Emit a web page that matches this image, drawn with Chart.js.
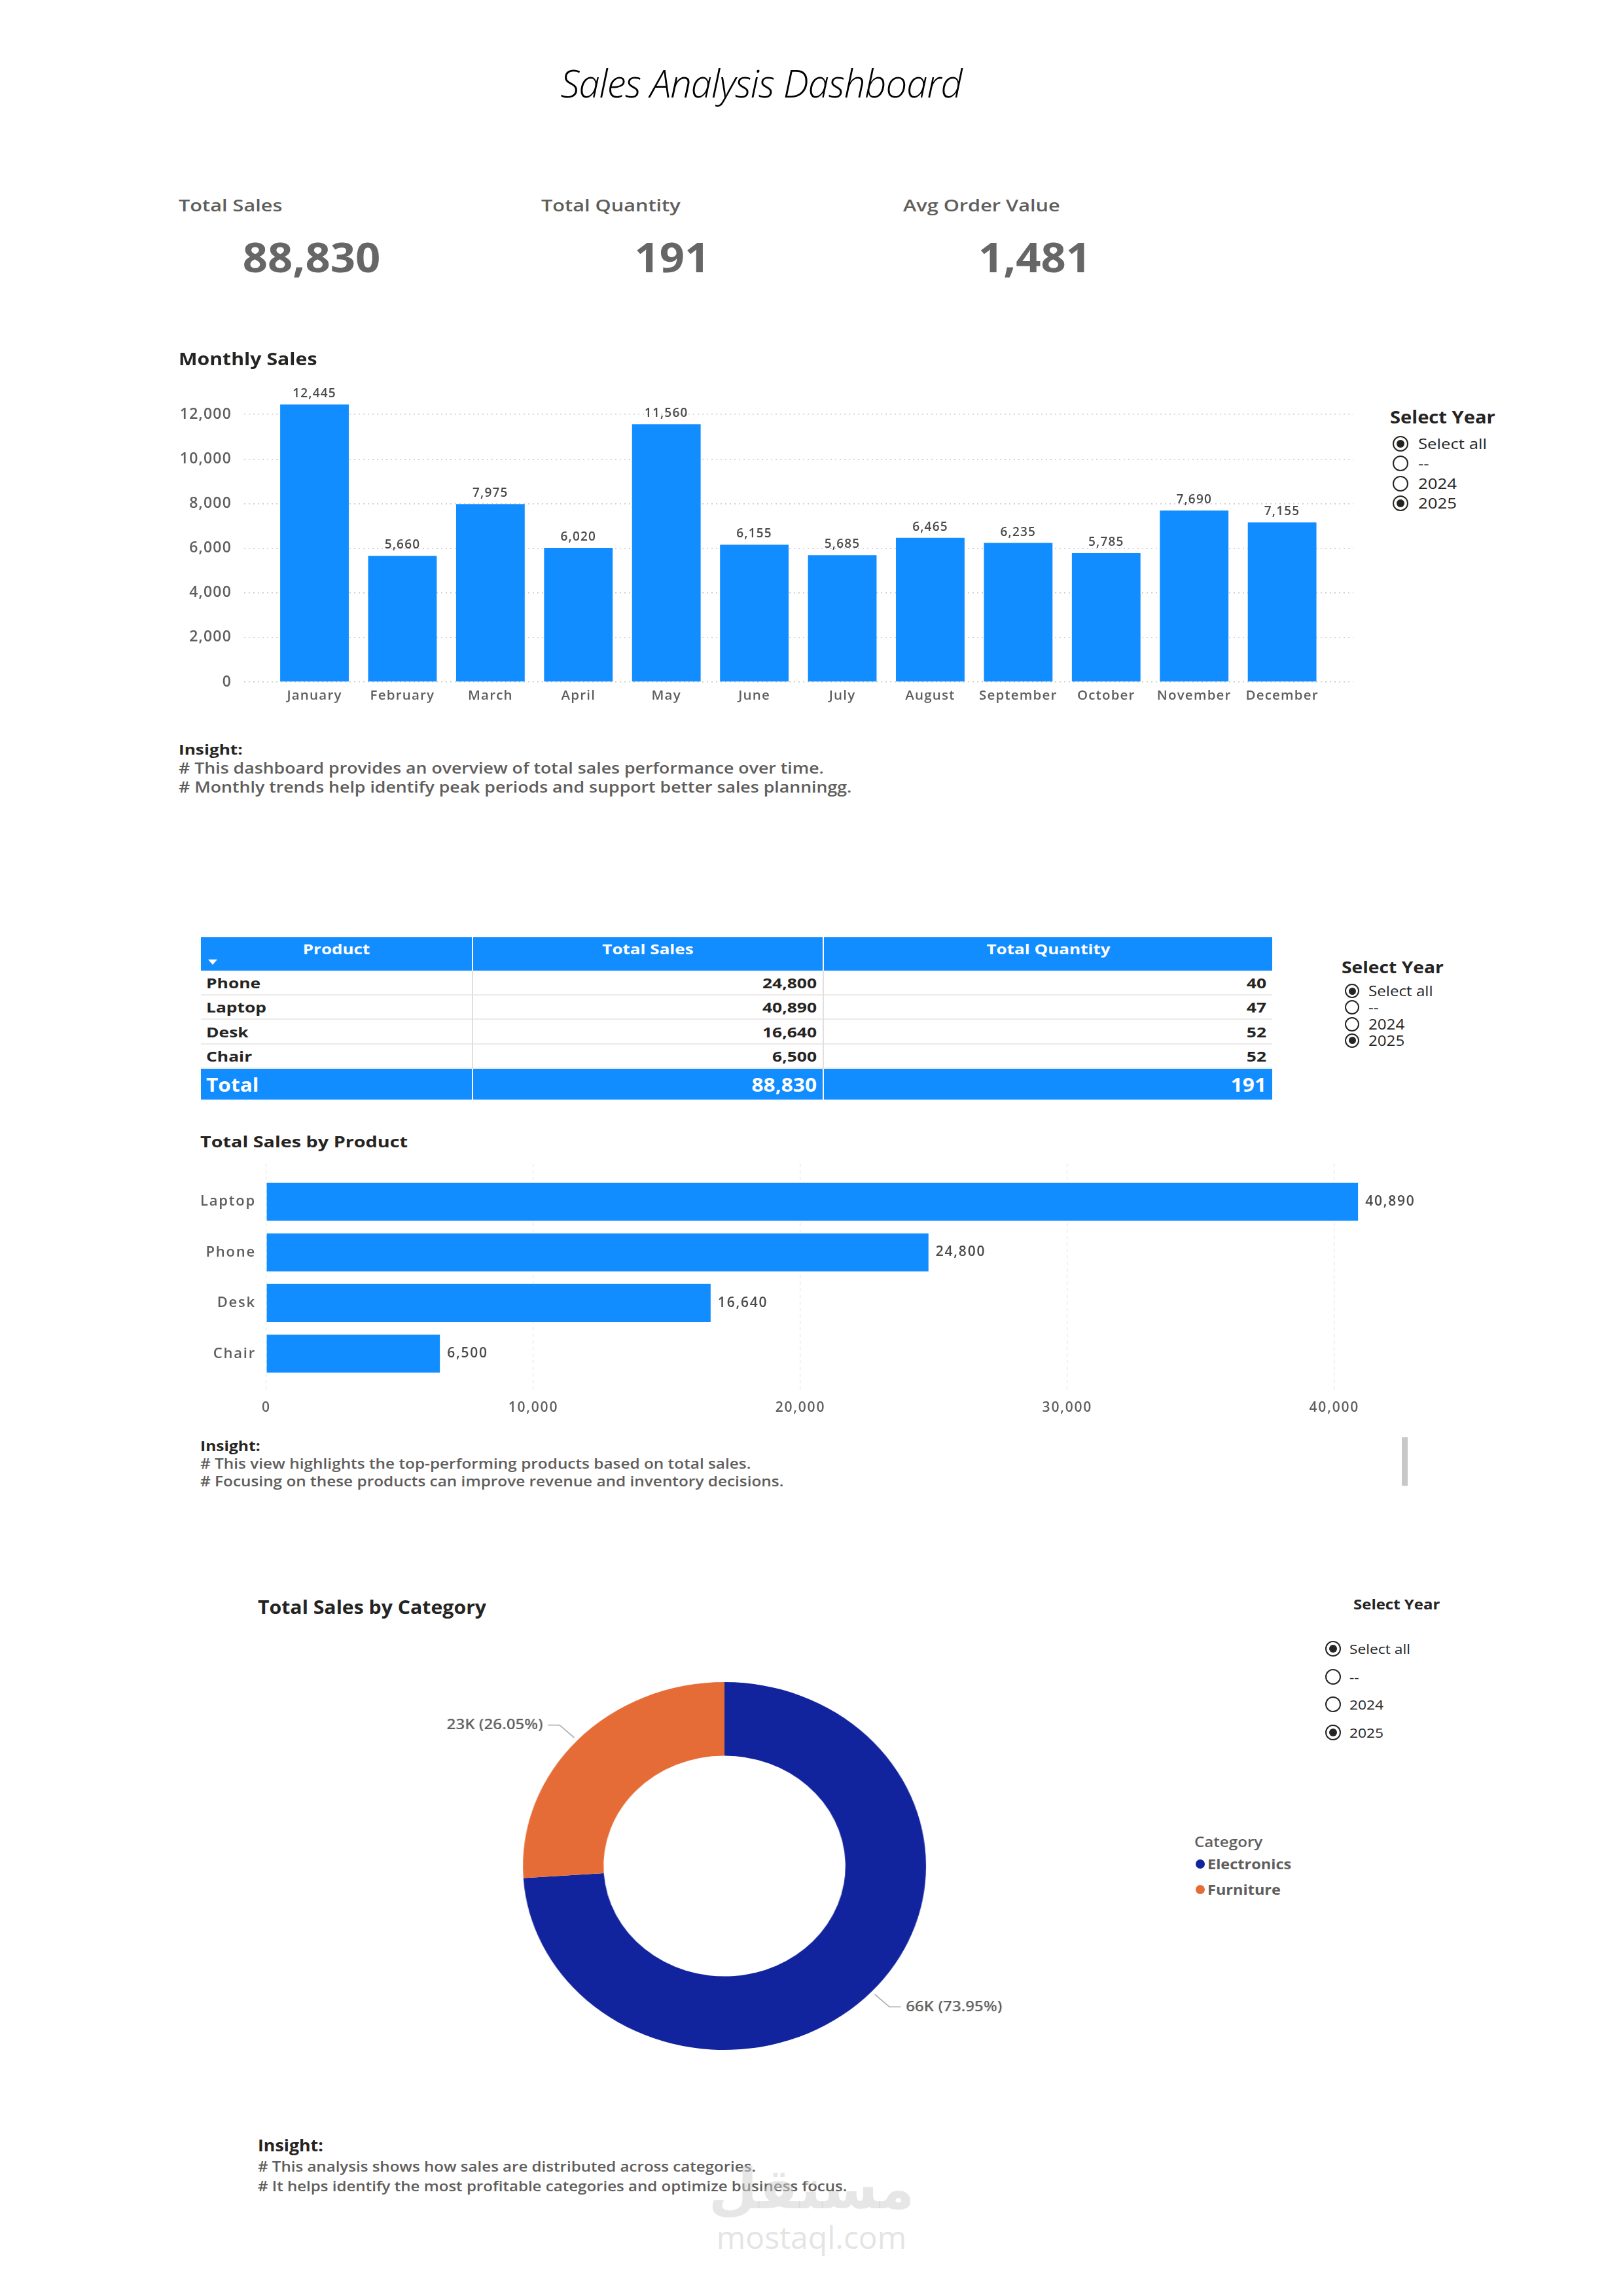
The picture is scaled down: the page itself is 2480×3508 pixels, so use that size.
<!DOCTYPE html>
<html>
<head>
<meta charset="utf-8">
<title>Sales Analysis Dashboard</title>
<script src="https://cdn.jsdelivr.net/npm/chart.js@4.4.1/dist/chart.umd.min.js"></script>
<style>
  html, body { margin:0; padding:0; background:#ffffff; }
  body { width:2480px; height:3508px; position:relative; overflow:hidden;
         font-family:"Open Sans","Noto Sans","DejaVu Sans",sans-serif; }
  .t { position:absolute; white-space:nowrap; line-height:1.25; }
  .abs { position:absolute; }
  canvas { display:block; }
</style>
</head>
<body>
<div class="abs" style="left:250px;top:540px;"><canvas id="monthly" width="1850" height="560"></canvas></div>
<div class="abs" style="left:280px;top:1760px;"><canvas id="product" width="2000" height="420"></canvas></div>
<div class="abs" style="left:657px;top:2551px;transform:scaleX(1.096);transform-origin:450px 300px;"><canvas id="category" width="900" height="600"></canvas></div>
<div class="abs" style="left:2142px;top:2196px;width:9px;height:74px;background:#C8C8C8;"></div>

<script>
// ---------------- DATA ----------------
const dashboardTitle = 'Sales Analysis Dashboard';
const kpiLabels = ['Total Sales', 'Total Quantity', 'Avg Order Value'];
const kpiValues = ['88,830', '191', '1,481'];

const months = ['January','February','March','April','May','June','July','August','September','October','November','December'];
const monthlySales = [12445, 5660, 7975, 6020, 11560, 6155, 5685, 6465, 6235, 5785, 7690, 7155];
const monthlyTicks = [0, 2000, 4000, 6000, 8000, 10000, 12000];

const products = ['Phone', 'Laptop', 'Desk', 'Chair'];
const productSales = [24800, 40890, 16640, 6500];
const productQty = [40, 47, 52, 52];
const tableHeaders = ['Product', 'Total Sales', 'Total Quantity'];

const productTicks = [0, 10000, 20000, 30000, 40000];

const categories = ['Electronics', 'Furniture'];
const categorySales = [65690, 23140];
const categoryColors = ['#12239E', '#E66C37'];

const yearOptions = ['Select all', '--', '2024', '2025'];
const yearSelected = [true, false, false, true];

const insightMonthly = ['# This dashboard provides an overview of total sales performance over time.',
                        '# Monthly trends help identify peak periods and support better sales planningg.'];
const insightProduct = ['# This view highlights the top-performing products based on total sales.',
                        '# Focusing on these products can improve revenue and inventory decisions.'];
const insightCategory = ['# This analysis shows how sales are distributed across categories.',
                         '# It helps identify the most profitable categories and optimize business focus.'];

// ---------------- HELPERS ----------------
const FONT = '"Open Sans","Noto Sans",sans-serif';
function addText(str, x, y, style, align, sx) {
  sx = sx || 1;
  const d = document.createElement('div');
  d.className = 't';
  d.textContent = str;
  d.style.left = x + 'px';
  d.style.top = y + 'px';
  const tx = align === 'center' ? '-50%' : (align === 'right' ? '-100%' : '0');
  d.style.transformOrigin = align === 'center' ? '50% 50%' : (align === 'right' ? '100% 50%' : '0 50%');
  d.style.transform = 'translate(' + tx + ',-50%) scaleX(' + sx + ')';
  Object.assign(d.style, style || {});
  document.body.appendChild(d);
  return d;
}
function addBox(x, y, w, h, style) {
  const d = document.createElement('div');
  d.className = 'abs';
  Object.assign(d.style, { left: x + 'px', top: y + 'px', width: w + 'px', height: h + 'px' }, style || {});
  document.body.appendChild(d);
  return d;
}
function fmt(v) { return v.toLocaleString('en-US'); }

function addSlicer(cfg) {
  addText('Select Year', cfg.titleX, cfg.titleY, { fontSize: cfg.titleSize + 'px', fontWeight: '700', color: '#252423' }, 'left', cfg.titleSx);
  yearOptions.forEach((opt, i) => {
    const cy = cfg.itemY + i * cfg.step;
    const d = cfg.dia;
    addBox(cfg.radioX - d / 2, cy - d / 2, d - 4, d - 4, { border: '2px solid #252423', borderRadius: '50%', background: '#fff' });
    if (yearSelected[i]) {
      const inner = d * 0.5;
      addBox(cfg.radioX - inner / 2, cy - inner / 2, inner, inner, { borderRadius: '50%', background: '#252423' });
    }
    addText(opt, cfg.textX, cy, { fontSize: cfg.itemSize + 'px', fontWeight: '400', color: '#252423' }, 'left', cfg.itemSx);
  });
}

// ---------------- HEADER ----------------
addText(dashboardTitle, 1163, 127, { fontSize: '58px', fontWeight: '300', fontStyle: 'italic', color: '#000', letterSpacing: '-1px' }, 'center');
const kpiLabelX = [273, 827, 1380];
const kpiValueX = [476, 1027, 1581];
kpiLabels.forEach((l, i) => {
  addText(l, kpiLabelX[i], 313, { fontSize: '26px', fontWeight: '600', color: '#605E5C' }, 'left', 1.18);
  addText(kpiValues[i], kpiValueX[i], 393, { fontSize: '62px', fontWeight: '700', color: '#666666' }, 'center', 1.08);
});

// ---------------- MONTHLY SECTION TEXT ----------------
addText('Monthly Sales', 273, 548, { fontSize: '27px', fontWeight: '700', color: '#252423' }, 'left', 1.12);
addSlicer({ titleX: 2124, titleY: 637, titleSize: 26, titleSx: 1.12, radioX: 2140, textX: 2167, itemY: 678, step: 30.3, dia: 24, itemSize: 22, itemSx: 1.17 });
addText('Insight:', 273, 1145, { fontSize: '22px', fontWeight: '700', color: '#252423' }, 'left', 1.19);
insightMonthly.forEach((l, i) => addText(l, 273, 1174 + i * 29, { fontSize: '22.5px', fontWeight: '600', color: '#605E5C' }, 'left', 1.186));

// ---------------- TABLE ----------------
const cols = [{ x: 307, w: 414 }, { x: 723, w: 534 }, { x: 1259, w: 685 }];
const headTop = 1432, headH = 51, rowH = 37.5, totalH = 47;
tableHeaders.forEach((h, c) => {
  addBox(cols[c].x, headTop, cols[c].w, headH, { background: '#118DFF' });
  addText(h, cols[c].x + cols[c].w / 2, headTop + 18, { fontSize: '21px', fontWeight: '700', color: '#fff' }, 'center', 1.24);
});
// sort indicator under Product
addBox(318, 1466, 0, 0, { borderLeft: '7px solid transparent', borderRight: '7px solid transparent', borderTop: '8px solid #fff' });
products.forEach((p, r) => {
  const y = headTop + headH + r * rowH;
  cols.forEach((c) => {
    addBox(c.x, y, c.w, rowH, { background: '#fff', borderBottom: '2px solid #EDEBE9', boxSizing: 'border-box' });
  });
  addText(p, cols[0].x + 8, y + rowH / 2, { fontSize: '22px', fontWeight: '700', color: '#252423' }, 'left', 1.2);
  addText(fmt(productSales[r]), cols[1].x + cols[1].w - 9, y + rowH / 2, { fontSize: '22px', fontWeight: '700', color: '#252423' }, 'right', 1.2);
  addText(fmt(productQty[r]), cols[2].x + cols[2].w - 9, y + rowH / 2, { fontSize: '22px', fontWeight: '700', color: '#252423' }, 'right', 1.2);
});
const bodyTop = headTop + headH, bodyBot = headTop + headH + products.length * rowH;
addBox(721, bodyTop, 2, bodyBot - bodyTop, { background: '#E1DFDD' });
addBox(1257, bodyTop, 2, bodyBot - bodyTop, { background: '#E1DFDD' });
const totalTop = bodyBot;
const totalSales = productSales.reduce((a, b) => a + b, 0);
const totalQty = productQty.reduce((a, b) => a + b, 0);
cols.forEach((c) => addBox(c.x, totalTop, c.w, totalH, { background: '#118DFF' }));
addText('Total', cols[0].x + 8, totalTop + totalH / 2, { fontSize: '28px', fontWeight: '700', color: '#fff' }, 'left', 1.13);
addText(fmt(totalSales), cols[1].x + cols[1].w - 9, totalTop + totalH / 2, { fontSize: '28px', fontWeight: '700', color: '#fff' }, 'right', 1.13);
addText(fmt(totalQty), cols[2].x + cols[2].w - 9, totalTop + totalH / 2, { fontSize: '28px', fontWeight: '700', color: '#fff' }, 'right', 1.13);

addSlicer({ titleX: 2050, titleY: 1478, titleSize: 25, titleSx: 1.13, radioX: 2066, textX: 2091, itemY: 1514, step: 25.3, dia: 22, itemSize: 21, itemSx: 1.15 });

// ---------------- PRODUCT SECTION TEXT ----------------
addText('Total Sales by Product', 306, 1744, { fontSize: '24px', fontWeight: '700', color: '#252423' }, 'left', 1.2);
addText('Insight:', 306, 2209, { fontSize: '21px', fontWeight: '700', color: '#252423' }, 'left', 1.17);
insightProduct.forEach((l, i) => addText(l, 306, 2236 + i * 27, { fontSize: '21px', fontWeight: '600', color: '#605E5C' }, 'left', 1.16));

// ---------------- CATEGORY SECTION TEXT ----------------
addText('Total Sales by Category', 394, 2455, { fontSize: '28px', fontWeight: '700', color: '#252423' }, 'left', 1.08);
addSlicer({ titleX: 2068, titleY: 2451, titleSize: 22, titleSx: 1.09, radioX: 2037, textX: 2062, itemY: 2519, step: 42.5, dia: 24, itemSize: 20, itemSx: 1.14 });
addText('Category', 1825, 2814, { fontSize: '21px', fontWeight: '600', color: '#605E5C' }, 'left', 1.15);
categories.forEach((c, i) => {
  const y = 2848 + i * 38.5;
  addBox(1827, y - 7, 14, 14, { borderRadius: '50%', background: categoryColors[i] });
  addText(c, 1845, y, { fontSize: '21px', fontWeight: '700', color: '#605E5C' }, 'left', 1.12);
});
addText('Insight:', 394, 3278, { fontSize: '25px', fontWeight: '700', color: '#252423' }, 'left', 1.07);
insightCategory.forEach((l, i) => addText(l, 394, 3310 + i * 30, { fontSize: '21.5px', fontWeight: '600', color: '#605E5C' }, 'left', 1.12));

// watermark
addText('مستقل', 1240, 3345, { fontSize: '86px', fontWeight: '700', color: 'rgba(205,205,205,0.5)', fontFamily: '"DejaVu Sans",sans-serif' }, 'center');
addText('mostaql.com', 1240, 3418, { fontSize: '48px', fontWeight: '400', color: 'rgba(205,205,205,0.55)' }, 'center');

// ---------------- CHART PLUGINS ----------------
const textSpacing = {
  id: 'textSpacing',
  beforeUpdate(chart, args, opts) { chart.ctx.letterSpacing = opts.value || '0px'; },
  beforeDraw(chart, args, opts) { chart.ctx.letterSpacing = opts.value || '0px'; }
};

const barValueLabels = {
  id: 'barValueLabels',
  afterDatasetsDraw(chart, args, opts) {
    const ctx = chart.ctx;
    const meta = chart.getDatasetMeta(0);
    const data = chart.data.datasets[0].data;
    ctx.save();
    ctx.font = opts.font;
    ctx.fillStyle = opts.color;
    meta.data.forEach((bar, i) => {
      const d = data[i];
      const val = opts.horizontal ? d.x : d.y;
      const txt = fmt(val);
      if (opts.horizontal) {
        ctx.textAlign = 'left'; ctx.textBaseline = 'middle';
        ctx.fillText(txt, bar.x + opts.offset, bar.y);
      } else {
        ctx.textAlign = 'center'; ctx.textBaseline = 'alphabetic';
        ctx.fillText(txt, bar.x, bar.y - opts.offset);
      }
    });
    ctx.restore();
  }
};

const donutLabels = {
  id: 'donutLabels',
  afterDatasetsDraw(chart, args, opts) {
    const ctx = chart.ctx;
    const meta = chart.getDatasetMeta(0);
    const values = chart.data.datasets[0].data;
    const total = values.reduce((a, b) => a + b, 0);
    ctx.save();
    meta.data.forEach((arc, i) => {
      const p = arc.getProps(['x', 'y', 'startAngle', 'endAngle', 'outerRadius'], true);
      const mid = (p.startAngle + p.endAngle) / 2;
      const c = Math.cos(mid), s = Math.sin(mid);
      const r1 = p.outerRadius + 6, r2 = p.outerRadius + 34;
      const x1 = p.x + c * r1, y1 = p.y + s * r1;
      const x2 = p.x + c * r2, y2 = p.y + s * r2;
      const dir = c >= 0 ? 1 : -1;
      const x3 = x2 + dir * 16;
      ctx.strokeStyle = '#A8A8A8';
      ctx.lineWidth = 1.5;
      ctx.beginPath(); ctx.moveTo(x1, y1); ctx.lineTo(x2, y2); ctx.lineTo(x3, y2); ctx.stroke();
      const txt = Math.round(values[i] / 1000) + 'K (' + (values[i] / total * 100).toFixed(2) + '%)';
      ctx.font = opts.font;
      ctx.fillStyle = opts.color;
      ctx.textAlign = dir > 0 ? 'left' : 'right';
      ctx.textBaseline = 'middle';
      ctx.fillText(txt, x3 + dir * 7, y2);
    });
    ctx.restore();
  }
};

// vertical scales: keep the chart area exactly where the layout padding puts it
function fixVertical(width) {
  return (s) => { s.width = width; s.paddingTop = 0; s.paddingBottom = 0; };
}

// ---------------- MONTHLY BAR CHART ----------------
new Chart(document.getElementById('monthly'), {
  type: 'bar',
  data: {
    datasets: [{
      data: monthlySales.map((v, i) => ({ x: i, y: v })),
      backgroundColor: '#118DFF',
      categoryPercentage: 0.78,
      barPercentage: 1
    }]
  },
  options: {
    responsive: false,
    animation: false,
    layout: { autoPadding: false, padding: { left: 0, right: 32, top: 25, bottom: 0 } },
    plugins: {
      legend: { display: false },
      tooltip: { enabled: false },
      textSpacing: { value: '1.2px' },
      barValueLabels: { font: '600 19px ' + FONT, color: '#4A4A4A', offset: 11, horizontal: false }
    },
    scales: {
      x: {
        type: 'linear', min: -0.8, max: 11.81, offset: false,
        afterBuildTicks: (s) => { s.ticks = months.map((m, i) => ({ value: i })); },
        afterFit: (s) => { s.height = 58; },
        grid: { display: false, drawTicks: false },
        border: { display: false },
        ticks: { autoSkip: false, maxRotation: 0, padding: 9, color: '#605E5C',
                 font: { family: FONT, size: 20.5, weight: '600' },
                 callback: (v) => months[v] }
      },
      y: {
        type: 'linear', min: 0, max: 14000,
        afterBuildTicks: (s) => { s.ticks = monthlyTicks.map((v) => ({ value: v })); },
        afterFit: fixVertical(123),
        grid: { color: '#C8C6C4', lineWidth: 1.5, drawTicks: false, borderDash: [2, 5] },
        border: { display: false, dash: [2, 5] },
        ticks: { padding: 19, color: '#605E5C', font: { family: FONT, size: 23, weight: '600' },
                 callback: (v) => fmt(v) }
      }
    }
  },
  plugins: [textSpacing, barValueLabels]
});

// ---------------- PRODUCT HORIZONTAL BAR CHART ----------------
const ranked = products.map((p, i) => ({ p, v: productSales[i] })).sort((a, b) => b.v - a.v);
const rankedNames = ranked.map((r) => r.p);
new Chart(document.getElementById('product'), {
  type: 'bar',
  data: {
    datasets: [{
      data: ranked.map((r, i) => ({ x: r.v, y: i })),
      backgroundColor: '#118DFF',
      categoryPercentage: 0.75,
      barPercentage: 1
    }]
  },
  options: {
    indexAxis: 'y',
    responsive: false,
    animation: false,
    layout: { autoPadding: false, padding: { left: 0, right: 78, top: 18, bottom: 0 } },
    plugins: {
      legend: { display: false },
      tooltip: { enabled: false },
      textSpacing: { value: '1.8px' },
      barValueLabels: { font: '600 21px ' + FONT, color: '#4A4A4A', offset: 11, horizontal: true }
    },
    scales: {
      y: {
        type: 'linear', reverse: true, min: -0.75, max: 3.72, offset: false,
        afterBuildTicks: (s) => { s.ticks = rankedNames.map((n, i) => ({ value: i })); },
        afterFit: fixVertical(127),
        grid: { display: false, drawTicks: false },
        border: { display: false },
        ticks: { padding: 16, color: '#605E5C', font: { family: FONT, size: 22, weight: '600' },
                 callback: (v) => rankedNames[v] }
      },
      x: {
        type: 'linear', min: 0, max: 44000,
        afterBuildTicks: (s) => { s.ticks = productTicks.map((v) => ({ value: v })); },
        afterFit: (s) => { s.height = 56; },
        grid: { color: '#E3E3E3', lineWidth: 1.2, drawTicks: false, borderDash: [5, 5] },
        border: { display: false, dash: [5, 5] },
        ticks: { padding: 14, maxRotation: 0, color: '#605E5C', font: { family: FONT, size: 21, weight: '600' },
                 callback: (v) => fmt(v) }
      }
    }
  },
  plugins: [textSpacing, barValueLabels]
});

// ---------------- CATEGORY DONUT ----------------
new Chart(document.getElementById('category'), {
  type: 'doughnut',
  data: {
    labels: categories,
    datasets: [{ data: categorySales, backgroundColor: categoryColors, borderWidth: 0 }]
  },
  options: {
    responsive: false,
    animation: false,
    cutout: '60%',
    layout: { padding: { left: 169, right: 169, top: 19, bottom: 19 } },
    plugins: {
      legend: { display: false },
      tooltip: { enabled: false },
      donutLabels: { font: '600 22px ' + FONT, color: '#605E5C' }
    }
  },
  plugins: [donutLabels]
});
</script>
</body>
</html>
